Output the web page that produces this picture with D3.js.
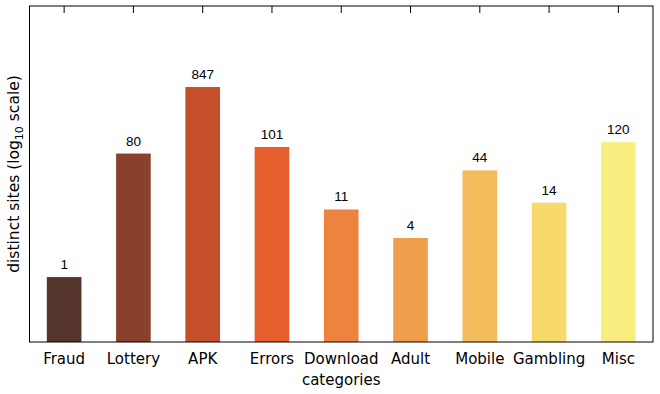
<!DOCTYPE html>
<html>
<head>
<meta charset="utf-8">
<script src="https://cdn.jsdelivr.net/npm/d3@7"></script>
<style>
  html, body { margin: 0; padding: 0; background: #fff; }
  svg { display: block; }
</style>
</head>
<body>
<div id="chart"></div>
<script>
// データ
const categories = ["Fraud", "Lottery", "APK", "Errors", "Download", "Adult", "Mobile", "Gambling", "Misc"];
const siteCounts = [1, 80, 847, 101, 11, 4, 44, 14, 120];
const barColors = ["#55352c", "#8a402d", "#c44f29", "#e5602d", "#ec833e", "#f19e4c", "#f4bb5a", "#f7da6b", "#f8ee80"];
const yDomain = [0.1, 15000];

const width = 660, height = 394;
const margin = { top: 6, right: 7, bottom: 52, left: 29.5 };

const svg = d3.select("#chart")
    .append("svg")
    .attr("width", width)
    .attr("height", height);

const x = d3.scaleBand()
    .domain(categories)
    .range([margin.left, width - margin.right])
    .paddingInner(0.5)
    .paddingOuter(0.25);

const y = d3.scaleLog()
    .domain(yDomain)
    .range([height - margin.bottom, margin.top]);

// 棒
svg.selectAll("rect.bar")
    .data(categories)
    .enter()
    .append("rect")
    .attr("class", "bar")
    .attr("x", d => x(d))
    .attr("width", x.bandwidth())
    .attr("y", (d, i) => y(siteCounts[i]))
    .attr("height", (d, i) => y(yDomain[0]) - y(siteCounts[i]))
    .attr("fill", (d, i) => barColors[i]);

// 値ラベル
svg.selectAll("text.val")
    .data(categories)
    .enter()
    .append("text")
    .attr("class", "val")
    .attr("x", d => x(d) + x.bandwidth() / 2)
    .attr("y", (d, i) => y(siteCounts[i]) - 8)
    .attr("text-anchor", "middle")
    .attr("font-family", "Liberation Sans, Arial, sans-serif")
    .attr("font-size", 13.5)
    .attr("fill", "#000")
    .text((d, i) => siteCounts[i]);

// 上側の目盛り（内向き）
const topAxis = svg.append("g")
    .attr("transform", `translate(0,${margin.top})`)
    .call(d3.axisBottom(x).tickSize(7).tickFormat(""));
topAxis.select(".domain").remove();
topAxis.selectAll("line").attr("stroke", "#000");

// 下側のカテゴリラベル
const bottomAxis = svg.append("g")
    .attr("transform", `translate(0,${height - margin.bottom})`)
    .call(d3.axisBottom(x).tickSize(0).tickPadding(11));
bottomAxis.select(".domain").remove();
bottomAxis.selectAll("text")
    .attr("font-family", "DejaVu Sans, sans-serif")
    .attr("font-size", 15)
    .attr("fill", "#000");

// 枠
svg.append("rect")
    .attr("x", margin.left)
    .attr("y", margin.top)
    .attr("width", width - margin.left - margin.right)
    .attr("height", height - margin.top - margin.bottom)
    .attr("fill", "none")
    .attr("stroke", "#000")
    .attr("stroke-width", 1);

// 軸タイトル
svg.append("text")
    .attr("x", (margin.left + width - margin.right) / 2)
    .attr("y", 385)
    .attr("text-anchor", "middle")
    .attr("font-family", "DejaVu Sans, sans-serif")
    .attr("font-size", 15)
    .text("categories");

const yTitle = svg.append("text")
    .attr("transform", `translate(19,${(margin.top + height - margin.bottom) / 2}) rotate(-90)`)
    .attr("text-anchor", "middle")
    .attr("font-family", "DejaVu Sans, sans-serif")
    .attr("font-size", 15.5);
yTitle.append("tspan").text("distinct sites (log");
yTitle.append("tspan").attr("font-size", 11).attr("dy", 4).text("10");
yTitle.append("tspan").attr("dy", -4).text(" scale)");
</script>
</body>
</html>
